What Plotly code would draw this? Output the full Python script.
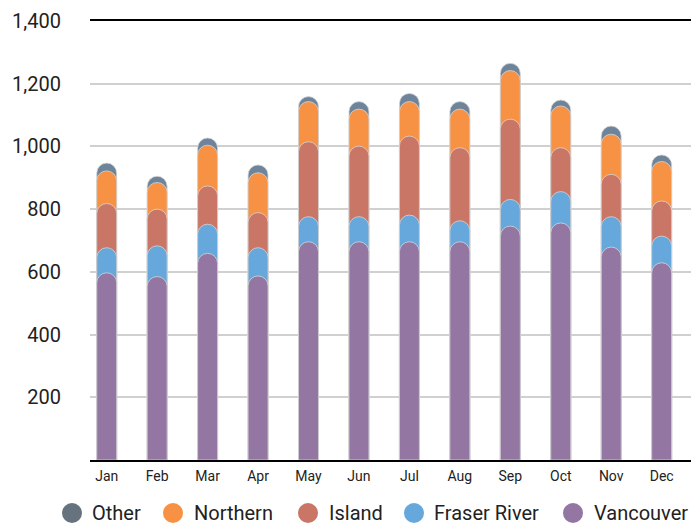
import numpy as np
import plotly.graph_objects as go

MONTHS = ["Jan", "Feb", "Mar", "Apr", "May", "Jun",
          "Jul", "Aug", "Sep", "Oct", "Nov", "Dec"]

# valeurs par région
vancouver = [597, 585, 659, 587, 696, 696, 696, 696, 746, 756, 679, 629]
fraser_river = [80, 98, 93, 90, 80, 80, 85, 67, 85, 100, 97, 85]
island = [141, 117, 122, 112, 239, 225, 252, 233, 256, 140, 135, 112]
northern = [104, 85, 130, 127, 128, 118, 110, 123, 155, 133, 128, 126]
other = [25, 20, 23, 25, 16, 24, 26, 24, 23, 19, 26, 21]

SERIES = [
    ("Vancouver", vancouver, "#9476a2"),
    ("Fraser River", fraser_river, "#66a8db"),
    ("Island", island, "#c97666"),
    ("Northern", northern, "#f79245"),
    ("Other", other, "#6e849a"),
]

FONT = "Roboto, sans-serif"
OFF = 8  # marge par défaut du <body> dans la page

# hauteurs cumulées : chaque série est dessinée de 0 jusqu'à son sommet empilé
cumul = np.cumsum([np.array(s[1]) for s in SERIES], axis=0)

fig = go.Figure()
# une barre par axe y superposé, pour que chaque sommet soit arrondi
for k, ((name, _, color), tops) in enumerate(reversed(list(zip(SERIES, cumul)))):
    yref = "y" if k == 0 else f"y{k + 1}"
    fig.add_trace(go.Bar(
        x=MONTHS, y=tops, name=name, width=0.395, yaxis=yref,
        marker=dict(color=color, cornerradius="50%",
                    line=dict(width=0.8, color="#d6d6d6")),
        showlegend=False,
    ))

# légende manuelle (cercles + texte)
legend_items = [("Other", "#66737e", 72, 90), ("Northern", "#f79245", 173, 192),
                ("Island", "#c97666", 308, 327), ("Fraser River", "#66a8db", 414, 432),
                ("Vancouver", "#9476a2", 573, 592)]
L, W, T, H = 90, 609, 21, 439
ly = (T + H - 513) / H
shapes, annotations = [], []
for label, color, cx, tx in legend_items:
    shapes.append(dict(type="circle", xref="paper", yref="paper",
                       xsizemode="pixel", ysizemode="pixel",
                       xanchor=(cx - L) / W, yanchor=ly,
                       x0=-10, x1=10, y0=-10, y1=10,
                       fillcolor=color, line=dict(width=0)))
    annotations.append(dict(text=label, xref="paper", yref="paper",
                            x=(tx - L) / W, y=ly, xanchor="left", yanchor="middle",
                            showarrow=False, font=dict(size=20, color="#222222", family=FONT)))

fig.update_layout(
    width=699 - OFF, height=525 - OFF,
    margin=dict(l=L - OFF, r=0, t=T - OFF, b=525 - T - H),
    plot_bgcolor="white", paper_bgcolor="white",
    font=dict(family=FONT, color="#222222"),
    shapes=shapes, annotations=annotations,
    xaxis=dict(range=[-0.331, 11.74], showline=True, mirror=True,
               linecolor="black", linewidth=1.5, showgrid=False,
               tickfont=dict(size=14), ticks="", ticklabelstandoff=2),
    yaxis=dict(range=[0, 1400], tickvals=list(range(200, 1401, 200)),
               tickformat=",", showgrid=True, gridcolor="#d0d0d0", gridwidth=1.5,
               zeroline=False, showline=False, tickfont=dict(size=20),
               ticklabelstandoff=28),
)
for k in range(2, 6):
    fig.update_layout({f"yaxis{k}": dict(range=[0, 1400], overlaying="y",
                                         visible=False, showgrid=False)})

fig.write_html("out.html")
